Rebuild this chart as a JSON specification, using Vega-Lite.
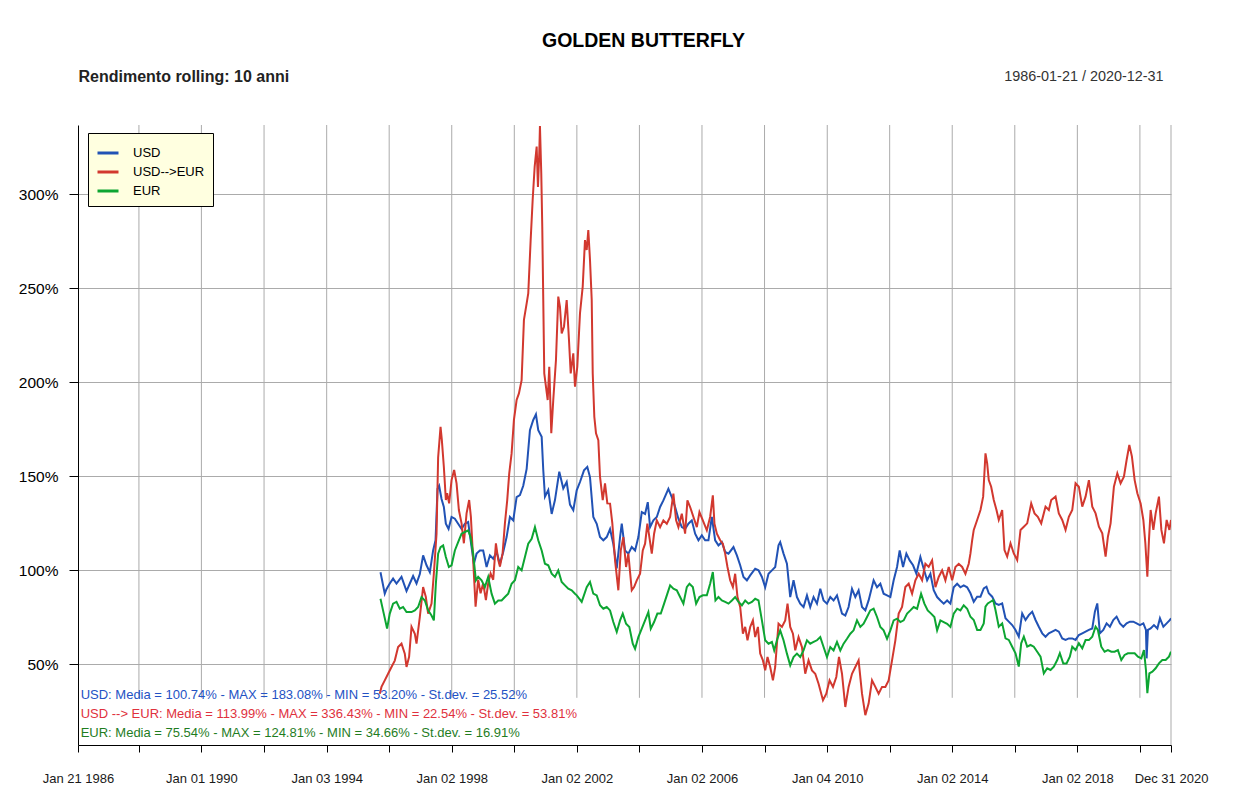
{
  "$schema": "https://vega.github.io/schema/vega-lite/v6.json",
  "autosize": {"type": "none"},
  "padding": {"left": 78, "top": 125, "right": 79, "bottom": 51},
  "width": 1093,
  "height": 620,
  "background": "white",
  "config": {"view": {"stroke": null}, "font": "Liberation Sans"},
  "datasets": {
    "grid": [
      {"d": 1988.003}, {"d": 1990.0}, {"d": 1992.003}, {"d": 1994.005}, {"d": 1996.003}, {"d": 1998.003},
      {"d": 2000.003}, {"d": 2002.003}, {"d": 2004.003}, {"d": 2006.003}, {"d": 2008.003}, {"d": 2010.008},
      {"d": 2012.003}, {"d": 2014.003}, {"d": 2016.003}, {"d": 2018.003}, {"d": 2020.003}
    ],
    "series": [
      {"s":"USD","t":1995.725,"v":99},{"s":"USD","t":1995.862,"v":87.6},{"s":"USD","t":1995.917,"v":90},{"s":"USD","t":1996.022,"v":93},{"s":"USD","t":1996.128,"v":95.6},{"s":"USD","t":1996.237,"v":93},{"s":"USD","t":1996.397,"v":96.5},{"s":"USD","t":1996.557,"v":89},{"s":"USD","t":1996.663,"v":93},{"s":"USD","t":1996.768,"v":97},{"s":"USD","t":1996.877,"v":93},{"s":"USD","t":1996.983,"v":98},{"s":"USD","t":1997.088,"v":108},{"s":"USD","t":1997.197,"v":102.7},{"s":"USD","t":1997.303,"v":99},{"s":"USD","t":1997.408,"v":110.6},{"s":"USD","t":1997.485,"v":116},{"s":"USD","t":1997.549,"v":143.4},{"s":"USD","t":1997.6,"v":145},{"s":"USD","t":1997.677,"v":138},{"s":"USD","t":1997.751,"v":133.7},{"s":"USD","t":1997.815,"v":124.8},{"s":"USD","t":1997.901,"v":122},{"s":"USD","t":1997.997,"v":128.4},{"s":"USD","t":1998.103,"v":127.5},{"s":"USD","t":1998.208,"v":124.8},{"s":"USD","t":1998.317,"v":122},{"s":"USD","t":1998.423,"v":124.8},{"s":"USD","t":1998.528,"v":125.7},{"s":"USD","t":1998.637,"v":112.4},{"s":"USD","t":1998.711,"v":103.5},{"s":"USD","t":1998.797,"v":108.9},{"s":"USD","t":1998.903,"v":110.6},{"s":"USD","t":1999.008,"v":110.6},{"s":"USD","t":1999.117,"v":101.8},{"s":"USD","t":1999.223,"v":108},{"s":"USD","t":1999.329,"v":106.2},{"s":"USD","t":1999.437,"v":109.8},{"s":"USD","t":1999.543,"v":103.5},{"s":"USD","t":1999.649,"v":109.8},{"s":"USD","t":1999.757,"v":117.7},{"s":"USD","t":1999.863,"v":128.4},{"s":"USD","t":1999.969,"v":126.6},{"s":"USD","t":2000.077,"v":139},{"s":"USD","t":2000.183,"v":140},{"s":"USD","t":2000.289,"v":145},{"s":"USD","t":2000.398,"v":154},{"s":"USD","t":2000.503,"v":174.6},{"s":"USD","t":2000.609,"v":180},{"s":"USD","t":2000.695,"v":183},{"s":"USD","t":2000.769,"v":174.6},{"s":"USD","t":2000.878,"v":171},{"s":"USD","t":2000.929,"v":153.4},{"s":"USD","t":2000.983,"v":139.2},{"s":"USD","t":2001.089,"v":142.7},{"s":"USD","t":2001.198,"v":130},{"s":"USD","t":2001.303,"v":137.4},{"s":"USD","t":2001.441,"v":152.5},{"s":"USD","t":2001.569,"v":143.6},{"s":"USD","t":2001.678,"v":147},{"s":"USD","t":2001.783,"v":135},{"s":"USD","t":2001.889,"v":132},{"s":"USD","t":2001.998,"v":142.6},{"s":"USD","t":2002.103,"v":147},{"s":"USD","t":2002.231,"v":153.2},{"s":"USD","t":2002.337,"v":155},{"s":"USD","t":2002.423,"v":149.6},{"s":"USD","t":2002.529,"v":128.4},{"s":"USD","t":2002.638,"v":124.8},{"s":"USD","t":2002.743,"v":117.7},{"s":"USD","t":2002.849,"v":116},{"s":"USD","t":2002.958,"v":117.7},{"s":"USD","t":2003.064,"v":122},{"s":"USD","t":2003.169,"v":114},{"s":"USD","t":2003.278,"v":101},{"s":"USD","t":2003.384,"v":117.7},{"s":"USD","t":2003.438,"v":124.8},{"s":"USD","t":2003.544,"v":110.6},{"s":"USD","t":2003.649,"v":108.9},{"s":"USD","t":2003.758,"v":112.4},{"s":"USD","t":2003.864,"v":110.6},{"s":"USD","t":2003.969,"v":117.7},{"s":"USD","t":2004.078,"v":131},{"s":"USD","t":2004.184,"v":130},{"s":"USD","t":2004.27,"v":136.3},{"s":"USD","t":2004.344,"v":123},{"s":"USD","t":2004.449,"v":126.6},{"s":"USD","t":2004.558,"v":128.4},{"s":"USD","t":2004.664,"v":133.7},{"s":"USD","t":2004.769,"v":137.2},{"s":"USD","t":2004.929,"v":143.4},{"s":"USD","t":2005.038,"v":139},{"s":"USD","t":2005.144,"v":133.7},{"s":"USD","t":2005.249,"v":127.5},{"s":"USD","t":2005.358,"v":123},{"s":"USD","t":2005.464,"v":122},{"s":"USD","t":2005.569,"v":124.8},{"s":"USD","t":2005.678,"v":126.6},{"s":"USD","t":2005.784,"v":119.5},{"s":"USD","t":2005.89,"v":116},{"s":"USD","t":2005.998,"v":118.6},{"s":"USD","t":2006.104,"v":116},{"s":"USD","t":2006.21,"v":116},{"s":"USD","t":2006.318,"v":128.4},{"s":"USD","t":2006.424,"v":116},{"s":"USD","t":2006.53,"v":113.3},{"s":"USD","t":2006.638,"v":115},{"s":"USD","t":2006.744,"v":109.8},{"s":"USD","t":2006.85,"v":108.9},{"s":"USD","t":2007.01,"v":112.4},{"s":"USD","t":2007.119,"v":108},{"s":"USD","t":2007.224,"v":102.7},{"s":"USD","t":2007.33,"v":96.5},{"s":"USD","t":2007.439,"v":94.7},{"s":"USD","t":2007.544,"v":97.3},{"s":"USD","t":2007.704,"v":100.9},{"s":"USD","t":2007.81,"v":100},{"s":"USD","t":2007.919,"v":96.5},{"s":"USD","t":2008.024,"v":91},{"s":"USD","t":2008.13,"v":98.2},{"s":"USD","t":2008.239,"v":100},{"s":"USD","t":2008.344,"v":101.8},{"s":"USD","t":2008.45,"v":113.3},{"s":"USD","t":2008.504,"v":115},{"s":"USD","t":2008.61,"v":108.9},{"s":"USD","t":2008.719,"v":103.5},{"s":"USD","t":2008.824,"v":85.8},{"s":"USD","t":2008.93,"v":94.7},{"s":"USD","t":2009.039,"v":85.8},{"s":"USD","t":2009.144,"v":82.3},{"s":"USD","t":2009.25,"v":80.5},{"s":"USD","t":2009.359,"v":86.7},{"s":"USD","t":2009.464,"v":80.5},{"s":"USD","t":2009.57,"v":85.8},{"s":"USD","t":2009.679,"v":82.3},{"s":"USD","t":2009.785,"v":90.2},{"s":"USD","t":2009.89,"v":84},{"s":"USD","t":2009.999,"v":82.3},{"s":"USD","t":2010.105,"v":85.8},{"s":"USD","t":2010.21,"v":84},{"s":"USD","t":2010.319,"v":86.7},{"s":"USD","t":2010.479,"v":77},{"s":"USD","t":2010.585,"v":76},{"s":"USD","t":2010.69,"v":80.5},{"s":"USD","t":2010.799,"v":90.2},{"s":"USD","t":2010.905,"v":85.8},{"s":"USD","t":2011.01,"v":89.4},{"s":"USD","t":2011.119,"v":80.5},{"s":"USD","t":2011.225,"v":78.7},{"s":"USD","t":2011.33,"v":84},{"s":"USD","t":2011.49,"v":94.7},{"s":"USD","t":2011.599,"v":91},{"s":"USD","t":2011.705,"v":92.9},{"s":"USD","t":2011.81,"v":87.6},{"s":"USD","t":2011.919,"v":86.7},{"s":"USD","t":2012.025,"v":85.8},{"s":"USD","t":2012.131,"v":94.7},{"s":"USD","t":2012.239,"v":101.8},{"s":"USD","t":2012.323,"v":110.6},{"s":"USD","t":2012.431,"v":101.8},{"s":"USD","t":2012.537,"v":108.9},{"s":"USD","t":2012.643,"v":105.3},{"s":"USD","t":2012.751,"v":102.7},{"s":"USD","t":2012.857,"v":98.2},{"s":"USD","t":2012.985,"v":107.1},{"s":"USD","t":2013.091,"v":100.9},{"s":"USD","t":2013.2,"v":94.7},{"s":"USD","t":2013.305,"v":98.2},{"s":"USD","t":2013.411,"v":89.4},{"s":"USD","t":2013.52,"v":85.8},{"s":"USD","t":2013.625,"v":84},{"s":"USD","t":2013.731,"v":82.3},{"s":"USD","t":2013.84,"v":84},{"s":"USD","t":2013.945,"v":82.3},{"s":"USD","t":2014.051,"v":91},{"s":"USD","t":2014.16,"v":92.9},{"s":"USD","t":2014.265,"v":91},{"s":"USD","t":2014.371,"v":92},{"s":"USD","t":2014.48,"v":91},{"s":"USD","t":2014.586,"v":87.8},{"s":"USD","t":2014.691,"v":83.3},{"s":"USD","t":2014.8,"v":86},{"s":"USD","t":2014.906,"v":86},{"s":"USD","t":2015.011,"v":90.4},{"s":"USD","t":2015.098,"v":91.3},{"s":"USD","t":2015.171,"v":87.8},{"s":"USD","t":2015.28,"v":86},{"s":"USD","t":2015.386,"v":82.4},{"s":"USD","t":2015.491,"v":81.6},{"s":"USD","t":2015.6,"v":82.4},{"s":"USD","t":2015.706,"v":74.5},{"s":"USD","t":2015.811,"v":72.7},{"s":"USD","t":2015.92,"v":70.9},{"s":"USD","t":2016.026,"v":68.3},{"s":"USD","t":2016.131,"v":64.7},{"s":"USD","t":2016.24,"v":77.1},{"s":"USD","t":2016.346,"v":73.6},{"s":"USD","t":2016.451,"v":76.2},{"s":"USD","t":2016.56,"v":78},{"s":"USD","t":2016.666,"v":73.6},{"s":"USD","t":2016.771,"v":70},{"s":"USD","t":2016.88,"v":66.5},{"s":"USD","t":2016.986,"v":64.7},{"s":"USD","t":2017.091,"v":66.5},{"s":"USD","t":2017.2,"v":67.4},{"s":"USD","t":2017.306,"v":68.3},{"s":"USD","t":2017.411,"v":67.4},{"s":"USD","t":2017.52,"v":63.8},{"s":"USD","t":2017.626,"v":63},{"s":"USD","t":2017.731,"v":63.8},{"s":"USD","t":2017.84,"v":63.8},{"s":"USD","t":2017.946,"v":63},{"s":"USD","t":2018.051,"v":65.6},{"s":"USD","t":2018.16,"v":66.5},{"s":"USD","t":2018.266,"v":67.4},{"s":"USD","t":2018.372,"v":68.3},{"s":"USD","t":2018.48,"v":69.1},{"s":"USD","t":2018.564,"v":78},{"s":"USD","t":2018.64,"v":82.4},{"s":"USD","t":2018.724,"v":66.5},{"s":"USD","t":2018.832,"v":68.3},{"s":"USD","t":2018.938,"v":71.8},{"s":"USD","t":2019.044,"v":70},{"s":"USD","t":2019.152,"v":73.6},{"s":"USD","t":2019.258,"v":75.4},{"s":"USD","t":2019.364,"v":71.8},{"s":"USD","t":2019.472,"v":70},{"s":"USD","t":2019.578,"v":71.8},{"s":"USD","t":2019.684,"v":72.7},{"s":"USD","t":2019.792,"v":72.7},{"s":"USD","t":2019.898,"v":71.8},{"s":"USD","t":2020.004,"v":70.9},{"s":"USD","t":2020.113,"v":71.8},{"s":"USD","t":2020.196,"v":68.3},{"s":"USD","t":2020.218,"v":53.2},{"s":"USD","t":2020.26,"v":68.3},{"s":"USD","t":2020.346,"v":69.1},{"s":"USD","t":2020.452,"v":70.9},{"s":"USD","t":2020.561,"v":69.1},{"s":"USD","t":2020.644,"v":74.5},{"s":"USD","t":2020.753,"v":70},{"s":"USD","t":2020.858,"v":71.8},{"s":"USD","t":2020.964,"v":73.6},{"s":"USD","t":2020.997,"v":74.5},
      {"s":"USD-->EUR","t":1995.702,"v":34.4},{"s":"USD-->EUR","t":1995.757,"v":38},{"s":"USD-->EUR","t":1995.862,"v":41.5},{"s":"USD-->EUR","t":1995.968,"v":45},{"s":"USD-->EUR","t":1996.077,"v":48.6},{"s":"USD-->EUR","t":1996.182,"v":52},{"s":"USD-->EUR","t":1996.288,"v":59.2},{"s":"USD-->EUR","t":1996.397,"v":61},{"s":"USD-->EUR","t":1996.502,"v":55.7},{"s":"USD-->EUR","t":1996.557,"v":48.6},{"s":"USD-->EUR","t":1996.64,"v":54},{"s":"USD-->EUR","t":1996.717,"v":70},{"s":"USD-->EUR","t":1996.823,"v":66.3},{"s":"USD-->EUR","t":1996.877,"v":61},{"s":"USD-->EUR","t":1996.983,"v":75.2},{"s":"USD-->EUR","t":1997.088,"v":91.1},{"s":"USD-->EUR","t":1997.175,"v":85.8},{"s":"USD-->EUR","t":1997.248,"v":77},{"s":"USD-->EUR","t":1997.357,"v":82.3},{"s":"USD-->EUR","t":1997.431,"v":98.2},{"s":"USD-->EUR","t":1997.517,"v":119.5},{"s":"USD-->EUR","t":1997.568,"v":160},{"s":"USD-->EUR","t":1997.645,"v":176.4},{"s":"USD-->EUR","t":1997.687,"v":169.3},{"s":"USD-->EUR","t":1997.751,"v":155},{"s":"USD-->EUR","t":1997.815,"v":137.4},{"s":"USD-->EUR","t":1997.856,"v":141},{"s":"USD-->EUR","t":1997.92,"v":135.6},{"s":"USD-->EUR","t":1997.997,"v":148},{"s":"USD-->EUR","t":1998.08,"v":153.4},{"s":"USD-->EUR","t":1998.157,"v":146.3},{"s":"USD-->EUR","t":1998.231,"v":132.1},{"s":"USD-->EUR","t":1998.317,"v":125},{"s":"USD-->EUR","t":1998.391,"v":114.4},{"s":"USD-->EUR","t":1998.477,"v":130.3},{"s":"USD-->EUR","t":1998.56,"v":137.4},{"s":"USD-->EUR","t":1998.615,"v":128.5},{"s":"USD-->EUR","t":1998.688,"v":105.6},{"s":"USD-->EUR","t":1998.765,"v":80.7},{"s":"USD-->EUR","t":1998.848,"v":95},{"s":"USD-->EUR","t":1998.925,"v":87.8},{"s":"USD-->EUR","t":1999.008,"v":93.1},{"s":"USD-->EUR","t":1999.095,"v":84.2},{"s":"USD-->EUR","t":1999.168,"v":93.1},{"s":"USD-->EUR","t":1999.245,"v":98.4},{"s":"USD-->EUR","t":1999.329,"v":95},{"s":"USD-->EUR","t":1999.415,"v":114.4},{"s":"USD-->EUR","t":1999.489,"v":105.6},{"s":"USD-->EUR","t":1999.543,"v":102},{"s":"USD-->EUR","t":1999.629,"v":109},{"s":"USD-->EUR","t":1999.703,"v":125},{"s":"USD-->EUR","t":1999.777,"v":137.4},{"s":"USD-->EUR","t":1999.841,"v":151.6},{"s":"USD-->EUR","t":1999.917,"v":162.2},{"s":"USD-->EUR","t":1999.991,"v":180},{"s":"USD-->EUR","t":2000.077,"v":190.6},{"s":"USD-->EUR","t":2000.151,"v":194.1},{"s":"USD-->EUR","t":2000.237,"v":201.2},{"s":"USD-->EUR","t":2000.311,"v":233.2},{"s":"USD-->EUR","t":2000.398,"v":242},{"s":"USD-->EUR","t":2000.449,"v":247.3},{"s":"USD-->EUR","t":2000.526,"v":275.7},{"s":"USD-->EUR","t":2000.59,"v":297},{"s":"USD-->EUR","t":2000.654,"v":314.7},{"s":"USD-->EUR","t":2000.718,"v":325.4},{"s":"USD-->EUR","t":2000.759,"v":304},{"s":"USD-->EUR","t":2000.801,"v":321.8},{"s":"USD-->EUR","t":2000.823,"v":336.4},{"s":"USD-->EUR","t":2000.865,"v":311.2},{"s":"USD-->EUR","t":2000.897,"v":282.8},{"s":"USD-->EUR","t":2000.929,"v":243.8},{"s":"USD-->EUR","t":2000.961,"v":204.8},{"s":"USD-->EUR","t":2001.015,"v":197.7},{"s":"USD-->EUR","t":2001.07,"v":190.6},{"s":"USD-->EUR","t":2001.121,"v":208.3},{"s":"USD-->EUR","t":2001.185,"v":172.9},{"s":"USD-->EUR","t":2001.249,"v":190.6},{"s":"USD-->EUR","t":2001.335,"v":211.9},{"s":"USD-->EUR","t":2001.409,"v":245.6},{"s":"USD-->EUR","t":2001.463,"v":240.2},{"s":"USD-->EUR","t":2001.518,"v":226},{"s":"USD-->EUR","t":2001.591,"v":229.6},{"s":"USD-->EUR","t":2001.678,"v":243.8},{"s":"USD-->EUR","t":2001.751,"v":222.5},{"s":"USD-->EUR","t":2001.806,"v":204.8},{"s":"USD-->EUR","t":2001.889,"v":215.4},{"s":"USD-->EUR","t":2001.943,"v":197.7},{"s":"USD-->EUR","t":2002.017,"v":208.3},{"s":"USD-->EUR","t":2002.103,"v":236.7},{"s":"USD-->EUR","t":2002.19,"v":250.9},{"s":"USD-->EUR","t":2002.263,"v":275.7},{"s":"USD-->EUR","t":2002.318,"v":270.4},{"s":"USD-->EUR","t":2002.369,"v":281},{"s":"USD-->EUR","t":2002.423,"v":265.1},{"s":"USD-->EUR","t":2002.478,"v":243.8},{"s":"USD-->EUR","t":2002.51,"v":204.8},{"s":"USD-->EUR","t":2002.561,"v":181.7},{"s":"USD-->EUR","t":2002.615,"v":172.9},{"s":"USD-->EUR","t":2002.689,"v":169.3},{"s":"USD-->EUR","t":2002.743,"v":149.8},{"s":"USD-->EUR","t":2002.83,"v":137.4},{"s":"USD-->EUR","t":2002.903,"v":146.3},{"s":"USD-->EUR","t":2002.977,"v":135.6},{"s":"USD-->EUR","t":2003.064,"v":135.5},{"s":"USD-->EUR","t":2003.137,"v":125},{"s":"USD-->EUR","t":2003.224,"v":105.3},{"s":"USD-->EUR","t":2003.329,"v":89.4},{"s":"USD-->EUR","t":2003.406,"v":110.6},{"s":"USD-->EUR","t":2003.489,"v":117.7},{"s":"USD-->EUR","t":2003.576,"v":101.8},{"s":"USD-->EUR","t":2003.649,"v":108.9},{"s":"USD-->EUR","t":2003.758,"v":89.4},{"s":"USD-->EUR","t":2003.832,"v":91.1},{"s":"USD-->EUR","t":2003.918,"v":94.7},{"s":"USD-->EUR","t":2004.024,"v":98.2},{"s":"USD-->EUR","t":2004.11,"v":110.6},{"s":"USD-->EUR","t":2004.184,"v":114.2},{"s":"USD-->EUR","t":2004.257,"v":124.8},{"s":"USD-->EUR","t":2004.321,"v":117.7},{"s":"USD-->EUR","t":2004.398,"v":108.9},{"s":"USD-->EUR","t":2004.472,"v":119.5},{"s":"USD-->EUR","t":2004.558,"v":126.6},{"s":"USD-->EUR","t":2004.664,"v":123},{"s":"USD-->EUR","t":2004.769,"v":126.6},{"s":"USD-->EUR","t":2004.878,"v":124.8},{"s":"USD-->EUR","t":2004.984,"v":128.4},{"s":"USD-->EUR","t":2005.089,"v":140.8},{"s":"USD-->EUR","t":2005.176,"v":126.6},{"s":"USD-->EUR","t":2005.249,"v":123},{"s":"USD-->EUR","t":2005.358,"v":130.1},{"s":"USD-->EUR","t":2005.464,"v":119.5},{"s":"USD-->EUR","t":2005.537,"v":137.2},{"s":"USD-->EUR","t":2005.624,"v":133.7},{"s":"USD-->EUR","t":2005.73,"v":128.4},{"s":"USD-->EUR","t":2005.838,"v":123},{"s":"USD-->EUR","t":2005.922,"v":131},{"s":"USD-->EUR","t":2006.03,"v":126.6},{"s":"USD-->EUR","t":2006.158,"v":121.3},{"s":"USD-->EUR","t":2006.264,"v":128.4},{"s":"USD-->EUR","t":2006.35,"v":139.9},{"s":"USD-->EUR","t":2006.402,"v":124.8},{"s":"USD-->EUR","t":2006.479,"v":119.5},{"s":"USD-->EUR","t":2006.584,"v":116},{"s":"USD-->EUR","t":2006.67,"v":114.2},{"s":"USD-->EUR","t":2006.744,"v":108.9},{"s":"USD-->EUR","t":2006.818,"v":101.8},{"s":"USD-->EUR","t":2006.904,"v":94.7},{"s":"USD-->EUR","t":2006.991,"v":91.1},{"s":"USD-->EUR","t":2007.064,"v":98.2},{"s":"USD-->EUR","t":2007.138,"v":85.8},{"s":"USD-->EUR","t":2007.224,"v":80.5},{"s":"USD-->EUR","t":2007.311,"v":66.3},{"s":"USD-->EUR","t":2007.384,"v":69.9},{"s":"USD-->EUR","t":2007.458,"v":62.8},{"s":"USD-->EUR","t":2007.544,"v":69.9},{"s":"USD-->EUR","t":2007.631,"v":73.4},{"s":"USD-->EUR","t":2007.704,"v":64.5},{"s":"USD-->EUR","t":2007.791,"v":69.9},{"s":"USD-->EUR","t":2007.864,"v":55.7},{"s":"USD-->EUR","t":2007.951,"v":52.1},{"s":"USD-->EUR","t":2008.024,"v":46.8},{"s":"USD-->EUR","t":2008.098,"v":53.9},{"s":"USD-->EUR","t":2008.184,"v":48.6},{"s":"USD-->EUR","t":2008.271,"v":41.5},{"s":"USD-->EUR","t":2008.344,"v":48.6},{"s":"USD-->EUR","t":2008.399,"v":61},{"s":"USD-->EUR","t":2008.45,"v":71.6},{"s":"USD-->EUR","t":2008.559,"v":69.9},{"s":"USD-->EUR","t":2008.664,"v":73.4},{"s":"USD-->EUR","t":2008.738,"v":82.3},{"s":"USD-->EUR","t":2008.824,"v":69.9},{"s":"USD-->EUR","t":2008.911,"v":66.3},{"s":"USD-->EUR","t":2008.984,"v":57.5},{"s":"USD-->EUR","t":2009.09,"v":64.5},{"s":"USD-->EUR","t":2009.199,"v":59.2},{"s":"USD-->EUR","t":2009.304,"v":45},{"s":"USD-->EUR","t":2009.41,"v":52.1},{"s":"USD-->EUR","t":2009.519,"v":46.8},{"s":"USD-->EUR","t":2009.624,"v":45},{"s":"USD-->EUR","t":2009.73,"v":39.7},{"s":"USD-->EUR","t":2009.871,"v":30.9},{"s":"USD-->EUR","t":2009.977,"v":34.4},{"s":"USD-->EUR","t":2010.082,"v":41.5},{"s":"USD-->EUR","t":2010.191,"v":38},{"s":"USD-->EUR","t":2010.297,"v":43.3},{"s":"USD-->EUR","t":2010.383,"v":54},{"s":"USD-->EUR","t":2010.479,"v":45},{"s":"USD-->EUR","t":2010.585,"v":27.3},{"s":"USD-->EUR","t":2010.69,"v":38},{"s":"USD-->EUR","t":2010.799,"v":45},{"s":"USD-->EUR","t":2010.905,"v":48.6},{"s":"USD-->EUR","t":2011.01,"v":52.1},{"s":"USD-->EUR","t":2011.119,"v":34.4},{"s":"USD-->EUR","t":2011.225,"v":23},{"s":"USD-->EUR","t":2011.33,"v":29.1},{"s":"USD-->EUR","t":2011.439,"v":41.5},{"s":"USD-->EUR","t":2011.545,"v":38},{"s":"USD-->EUR","t":2011.65,"v":34.4},{"s":"USD-->EUR","t":2011.759,"v":38},{"s":"USD-->EUR","t":2011.865,"v":38},{"s":"USD-->EUR","t":2011.97,"v":41.5},{"s":"USD-->EUR","t":2012.079,"v":52.1},{"s":"USD-->EUR","t":2012.185,"v":62.8},{"s":"USD-->EUR","t":2012.291,"v":77},{"s":"USD-->EUR","t":2012.399,"v":80.5},{"s":"USD-->EUR","t":2012.505,"v":91.1},{"s":"USD-->EUR","t":2012.611,"v":92.9},{"s":"USD-->EUR","t":2012.72,"v":87.6},{"s":"USD-->EUR","t":2012.825,"v":94.7},{"s":"USD-->EUR","t":2012.931,"v":98.2},{"s":"USD-->EUR","t":2013.04,"v":94.7},{"s":"USD-->EUR","t":2013.145,"v":103.5},{"s":"USD-->EUR","t":2013.251,"v":101.8},{"s":"USD-->EUR","t":2013.36,"v":105.3},{"s":"USD-->EUR","t":2013.466,"v":91.1},{"s":"USD-->EUR","t":2013.571,"v":96.5},{"s":"USD-->EUR","t":2013.68,"v":100},{"s":"USD-->EUR","t":2013.785,"v":94.7},{"s":"USD-->EUR","t":2013.891,"v":101.8},{"s":"USD-->EUR","t":2014.0,"v":94.7},{"s":"USD-->EUR","t":2014.105,"v":101.8},{"s":"USD-->EUR","t":2014.211,"v":103.5},{"s":"USD-->EUR","t":2014.32,"v":101.8},{"s":"USD-->EUR","t":2014.425,"v":98.2},{"s":"USD-->EUR","t":2014.531,"v":103.5},{"s":"USD-->EUR","t":2014.586,"v":109},{"s":"USD-->EUR","t":2014.64,"v":115.9},{"s":"USD-->EUR","t":2014.691,"v":121.5},{"s":"USD-->EUR","t":2014.8,"v":126.8},{"s":"USD-->EUR","t":2014.906,"v":132.1},{"s":"USD-->EUR","t":2014.992,"v":139.2},{"s":"USD-->EUR","t":2015.066,"v":162.2},{"s":"USD-->EUR","t":2015.12,"v":156.9},{"s":"USD-->EUR","t":2015.171,"v":148},{"s":"USD-->EUR","t":2015.248,"v":144.5},{"s":"USD-->EUR","t":2015.331,"v":137.4},{"s":"USD-->EUR","t":2015.418,"v":132.1},{"s":"USD-->EUR","t":2015.491,"v":126.8},{"s":"USD-->EUR","t":2015.6,"v":132.1},{"s":"USD-->EUR","t":2015.674,"v":110.8},{"s":"USD-->EUR","t":2015.76,"v":107.3},{"s":"USD-->EUR","t":2015.866,"v":114.4},{"s":"USD-->EUR","t":2015.971,"v":109},{"s":"USD-->EUR","t":2016.08,"v":105.5},{"s":"USD-->EUR","t":2016.186,"v":121.5},{"s":"USD-->EUR","t":2016.292,"v":123.2},{"s":"USD-->EUR","t":2016.4,"v":125},{"s":"USD-->EUR","t":2016.528,"v":135.6},{"s":"USD-->EUR","t":2016.634,"v":130.3},{"s":"USD-->EUR","t":2016.739,"v":128.5},{"s":"USD-->EUR","t":2016.848,"v":125},{"s":"USD-->EUR","t":2016.986,"v":133.9},{"s":"USD-->EUR","t":2017.091,"v":132.1},{"s":"USD-->EUR","t":2017.168,"v":137.4},{"s":"USD-->EUR","t":2017.306,"v":139.2},{"s":"USD-->EUR","t":2017.411,"v":130.3},{"s":"USD-->EUR","t":2017.52,"v":126.8},{"s":"USD-->EUR","t":2017.626,"v":121.5},{"s":"USD-->EUR","t":2017.731,"v":128.5},{"s":"USD-->EUR","t":2017.84,"v":132.1},{"s":"USD-->EUR","t":2017.946,"v":146.3},{"s":"USD-->EUR","t":2018.051,"v":144.5},{"s":"USD-->EUR","t":2018.16,"v":133.9},{"s":"USD-->EUR","t":2018.266,"v":139.2},{"s":"USD-->EUR","t":2018.372,"v":148},{"s":"USD-->EUR","t":2018.48,"v":133.9},{"s":"USD-->EUR","t":2018.586,"v":130.3},{"s":"USD-->EUR","t":2018.692,"v":123.2},{"s":"USD-->EUR","t":2018.8,"v":119.7},{"s":"USD-->EUR","t":2018.906,"v":107.3},{"s":"USD-->EUR","t":2018.98,"v":117.9},{"s":"USD-->EUR","t":2019.066,"v":125},{"s":"USD-->EUR","t":2019.172,"v":144.5},{"s":"USD-->EUR","t":2019.281,"v":151.6},{"s":"USD-->EUR","t":2019.386,"v":146.3},{"s":"USD-->EUR","t":2019.492,"v":149.8},{"s":"USD-->EUR","t":2019.578,"v":158.7},{"s":"USD-->EUR","t":2019.665,"v":166.7},{"s":"USD-->EUR","t":2019.748,"v":160.5},{"s":"USD-->EUR","t":2019.835,"v":148},{"s":"USD-->EUR","t":2019.921,"v":141},{"s":"USD-->EUR","t":2020.026,"v":135.6},{"s":"USD-->EUR","t":2020.113,"v":126.8},{"s":"USD-->EUR","t":2020.177,"v":114.4},{"s":"USD-->EUR","t":2020.241,"v":96.6},{"s":"USD-->EUR","t":2020.292,"v":116.1},{"s":"USD-->EUR","t":2020.346,"v":132.1},{"s":"USD-->EUR","t":2020.433,"v":121.5},{"s":"USD-->EUR","t":2020.506,"v":130.3},{"s":"USD-->EUR","t":2020.612,"v":139.2},{"s":"USD-->EUR","t":2020.689,"v":121.5},{"s":"USD-->EUR","t":2020.772,"v":114.4},{"s":"USD-->EUR","t":2020.858,"v":126.8},{"s":"USD-->EUR","t":2020.945,"v":121.5},{"s":"USD-->EUR","t":2020.997,"v":126.8},
      {"s":"EUR","t":1995.725,"v":84.9},{"s":"EUR","t":1995.83,"v":77},{"s":"EUR","t":1995.936,"v":69},{"s":"EUR","t":1996.022,"v":77},{"s":"EUR","t":1996.128,"v":82.3},{"s":"EUR","t":1996.237,"v":83.2},{"s":"EUR","t":1996.342,"v":79.6},{"s":"EUR","t":1996.448,"v":80.5},{"s":"EUR","t":1996.557,"v":77.8},{"s":"EUR","t":1996.717,"v":77.8},{"s":"EUR","t":1996.823,"v":78.7},{"s":"EUR","t":1996.928,"v":80.5},{"s":"EUR","t":1997.037,"v":85.8},{"s":"EUR","t":1997.143,"v":84},{"s":"EUR","t":1997.248,"v":78.7},{"s":"EUR","t":1997.357,"v":76},{"s":"EUR","t":1997.431,"v":73.4},{"s":"EUR","t":1997.495,"v":92.9},{"s":"EUR","t":1997.568,"v":108.9},{"s":"EUR","t":1997.645,"v":112.4},{"s":"EUR","t":1997.728,"v":113.3},{"s":"EUR","t":1997.815,"v":107.1},{"s":"EUR","t":1997.911,"v":101.8},{"s":"EUR","t":1997.997,"v":102.7},{"s":"EUR","t":1998.103,"v":110.6},{"s":"EUR","t":1998.208,"v":115},{"s":"EUR","t":1998.317,"v":119.5},{"s":"EUR","t":1998.423,"v":120.4},{"s":"EUR","t":1998.528,"v":121.3},{"s":"EUR","t":1998.605,"v":117.7},{"s":"EUR","t":1998.688,"v":108.9},{"s":"EUR","t":1998.775,"v":94.7},{"s":"EUR","t":1998.848,"v":96.5},{"s":"EUR","t":1998.957,"v":94.7},{"s":"EUR","t":1999.063,"v":91.1},{"s":"EUR","t":1999.168,"v":96.5},{"s":"EUR","t":1999.277,"v":87.6},{"s":"EUR","t":1999.383,"v":82.3},{"s":"EUR","t":1999.489,"v":84},{"s":"EUR","t":1999.597,"v":84},{"s":"EUR","t":1999.703,"v":85.8},{"s":"EUR","t":1999.809,"v":87.6},{"s":"EUR","t":1999.917,"v":92.9},{"s":"EUR","t":2000.023,"v":94.7},{"s":"EUR","t":2000.129,"v":101.8},{"s":"EUR","t":2000.237,"v":100},{"s":"EUR","t":2000.343,"v":107.1},{"s":"EUR","t":2000.449,"v":114.2},{"s":"EUR","t":2000.558,"v":116.8},{"s":"EUR","t":2000.663,"v":123},{"s":"EUR","t":2000.769,"v":116},{"s":"EUR","t":2000.878,"v":110.6},{"s":"EUR","t":2000.983,"v":103.5},{"s":"EUR","t":2001.089,"v":102.7},{"s":"EUR","t":2001.198,"v":98.2},{"s":"EUR","t":2001.303,"v":96.5},{"s":"EUR","t":2001.409,"v":100},{"s":"EUR","t":2001.518,"v":93.8},{"s":"EUR","t":2001.623,"v":92},{"s":"EUR","t":2001.729,"v":90.2},{"s":"EUR","t":2001.838,"v":89.4},{"s":"EUR","t":2001.943,"v":87.6},{"s":"EUR","t":2002.0,"v":86.7},{"s":"EUR","t":2002.158,"v":83.2},{"s":"EUR","t":2002.318,"v":91.1},{"s":"EUR","t":2002.423,"v":93.8},{"s":"EUR","t":2002.529,"v":87.6},{"s":"EUR","t":2002.638,"v":86.7},{"s":"EUR","t":2002.743,"v":81.4},{"s":"EUR","t":2002.849,"v":79.6},{"s":"EUR","t":2002.958,"v":80.5},{"s":"EUR","t":2003.064,"v":78.7},{"s":"EUR","t":2003.169,"v":72.5},{"s":"EUR","t":2003.278,"v":67.2},{"s":"EUR","t":2003.384,"v":73.4},{"s":"EUR","t":2003.47,"v":77},{"s":"EUR","t":2003.576,"v":71.6},{"s":"EUR","t":2003.681,"v":69.9},{"s":"EUR","t":2003.79,"v":61},{"s":"EUR","t":2003.864,"v":58.3},{"s":"EUR","t":2003.969,"v":64.5},{"s":"EUR","t":2004.078,"v":69},{"s":"EUR","t":2004.184,"v":73.4},{"s":"EUR","t":2004.289,"v":77.8},{"s":"EUR","t":2004.366,"v":69},{"s":"EUR","t":2004.472,"v":72.5},{"s":"EUR","t":2004.577,"v":77},{"s":"EUR","t":2004.686,"v":77},{"s":"EUR","t":2004.792,"v":82.3},{"s":"EUR","t":2004.897,"v":87.6},{"s":"EUR","t":2004.984,"v":92},{"s":"EUR","t":2005.089,"v":90.2},{"s":"EUR","t":2005.198,"v":89.4},{"s":"EUR","t":2005.304,"v":85.8},{"s":"EUR","t":2005.409,"v":82.3},{"s":"EUR","t":2005.518,"v":91.1},{"s":"EUR","t":2005.602,"v":92.9},{"s":"EUR","t":2005.71,"v":91.1},{"s":"EUR","t":2005.816,"v":82.3},{"s":"EUR","t":2005.922,"v":85.8},{"s":"EUR","t":2006.03,"v":86.7},{"s":"EUR","t":2006.158,"v":86.7},{"s":"EUR","t":2006.264,"v":92.9},{"s":"EUR","t":2006.35,"v":99.1},{"s":"EUR","t":2006.434,"v":84},{"s":"EUR","t":2006.53,"v":85.8},{"s":"EUR","t":2006.638,"v":84},{"s":"EUR","t":2006.744,"v":83.2},{"s":"EUR","t":2006.85,"v":82.3},{"s":"EUR","t":2006.959,"v":84},{"s":"EUR","t":2007.064,"v":85.8},{"s":"EUR","t":2007.17,"v":83.2},{"s":"EUR","t":2007.279,"v":81.4},{"s":"EUR","t":2007.384,"v":84},{"s":"EUR","t":2007.49,"v":82.3},{"s":"EUR","t":2007.599,"v":83.2},{"s":"EUR","t":2007.704,"v":84.9},{"s":"EUR","t":2007.81,"v":84},{"s":"EUR","t":2007.919,"v":73.4},{"s":"EUR","t":2008.024,"v":62.8},{"s":"EUR","t":2008.13,"v":61},{"s":"EUR","t":2008.239,"v":61.9},{"s":"EUR","t":2008.312,"v":57.4},{"s":"EUR","t":2008.399,"v":62.8},{"s":"EUR","t":2008.504,"v":68.1},{"s":"EUR","t":2008.61,"v":62.8},{"s":"EUR","t":2008.719,"v":55.7},{"s":"EUR","t":2008.824,"v":49.5},{"s":"EUR","t":2008.93,"v":53.9},{"s":"EUR","t":2009.039,"v":55.7},{"s":"EUR","t":2009.144,"v":53.9},{"s":"EUR","t":2009.25,"v":57.4},{"s":"EUR","t":2009.359,"v":62.8},{"s":"EUR","t":2009.464,"v":61},{"s":"EUR","t":2009.57,"v":61.9},{"s":"EUR","t":2009.679,"v":62.8},{"s":"EUR","t":2009.785,"v":64.5},{"s":"EUR","t":2009.89,"v":59.2},{"s":"EUR","t":2009.999,"v":53.9},{"s":"EUR","t":2010.105,"v":59.2},{"s":"EUR","t":2010.21,"v":57.4},{"s":"EUR","t":2010.319,"v":61.9},{"s":"EUR","t":2010.425,"v":57.4},{"s":"EUR","t":2010.53,"v":61},{"s":"EUR","t":2010.639,"v":63.6},{"s":"EUR","t":2010.745,"v":66.3},{"s":"EUR","t":2010.85,"v":68.1},{"s":"EUR","t":2010.959,"v":73.4},{"s":"EUR","t":2011.065,"v":69.9},{"s":"EUR","t":2011.17,"v":71.6},{"s":"EUR","t":2011.279,"v":75.2},{"s":"EUR","t":2011.385,"v":78.7},{"s":"EUR","t":2011.49,"v":79.6},{"s":"EUR","t":2011.599,"v":75.2},{"s":"EUR","t":2011.705,"v":69.9},{"s":"EUR","t":2011.81,"v":68.1},{"s":"EUR","t":2011.919,"v":63.6},{"s":"EUR","t":2012.025,"v":68.1},{"s":"EUR","t":2012.131,"v":73.4},{"s":"EUR","t":2012.239,"v":74.3},{"s":"EUR","t":2012.345,"v":72.5},{"s":"EUR","t":2012.451,"v":73.4},{"s":"EUR","t":2012.56,"v":77},{"s":"EUR","t":2012.665,"v":78.7},{"s":"EUR","t":2012.771,"v":80.5},{"s":"EUR","t":2012.88,"v":79.6},{"s":"EUR","t":2013.007,"v":87.6},{"s":"EUR","t":2013.113,"v":82.3},{"s":"EUR","t":2013.219,"v":78.7},{"s":"EUR","t":2013.328,"v":77},{"s":"EUR","t":2013.433,"v":75.2},{"s":"EUR","t":2013.52,"v":68.1},{"s":"EUR","t":2013.625,"v":73.4},{"s":"EUR","t":2013.731,"v":72.5},{"s":"EUR","t":2013.84,"v":71.6},{"s":"EUR","t":2013.945,"v":69.9},{"s":"EUR","t":2014.051,"v":77},{"s":"EUR","t":2014.16,"v":79.6},{"s":"EUR","t":2014.265,"v":78.7},{"s":"EUR","t":2014.371,"v":81.4},{"s":"EUR","t":2014.48,"v":79.6},{"s":"EUR","t":2014.586,"v":75.3},{"s":"EUR","t":2014.691,"v":73.6},{"s":"EUR","t":2014.8,"v":68.3},{"s":"EUR","t":2014.906,"v":68.3},{"s":"EUR","t":2015.011,"v":71.8},{"s":"EUR","t":2015.066,"v":80.7},{"s":"EUR","t":2015.139,"v":82.4},{"s":"EUR","t":2015.226,"v":83.3},{"s":"EUR","t":2015.312,"v":84.2},{"s":"EUR","t":2015.386,"v":78.9},{"s":"EUR","t":2015.491,"v":70},{"s":"EUR","t":2015.6,"v":71.8},{"s":"EUR","t":2015.706,"v":63.8},{"s":"EUR","t":2015.811,"v":63},{"s":"EUR","t":2015.92,"v":59.4},{"s":"EUR","t":2016.026,"v":55.9},{"s":"EUR","t":2016.131,"v":48.8},{"s":"EUR","t":2016.208,"v":61.2},{"s":"EUR","t":2016.292,"v":64.7},{"s":"EUR","t":2016.4,"v":59.4},{"s":"EUR","t":2016.506,"v":60.3},{"s":"EUR","t":2016.611,"v":59.4},{"s":"EUR","t":2016.72,"v":56.7},{"s":"EUR","t":2016.826,"v":54.1},{"s":"EUR","t":2016.931,"v":45.2},{"s":"EUR","t":2017.04,"v":47.9},{"s":"EUR","t":2017.146,"v":47},{"s":"EUR","t":2017.251,"v":48.8},{"s":"EUR","t":2017.36,"v":52.3},{"s":"EUR","t":2017.443,"v":55.9},{"s":"EUR","t":2017.552,"v":50.5},{"s":"EUR","t":2017.658,"v":50.5},{"s":"EUR","t":2017.763,"v":54.1},{"s":"EUR","t":2017.84,"v":59.4},{"s":"EUR","t":2017.946,"v":57.6},{"s":"EUR","t":2018.051,"v":61.2},{"s":"EUR","t":2018.16,"v":58.5},{"s":"EUR","t":2018.266,"v":62.9},{"s":"EUR","t":2018.372,"v":62.9},{"s":"EUR","t":2018.48,"v":64.7},{"s":"EUR","t":2018.586,"v":70},{"s":"EUR","t":2018.66,"v":68.3},{"s":"EUR","t":2018.768,"v":59.4},{"s":"EUR","t":2018.874,"v":56.7},{"s":"EUR","t":2018.98,"v":57.6},{"s":"EUR","t":2019.088,"v":56.7},{"s":"EUR","t":2019.194,"v":56.7},{"s":"EUR","t":2019.3,"v":57.6},{"s":"EUR","t":2019.408,"v":52.3},{"s":"EUR","t":2019.514,"v":55},{"s":"EUR","t":2019.62,"v":55.9},{"s":"EUR","t":2019.729,"v":55.9},{"s":"EUR","t":2019.835,"v":55.9},{"s":"EUR","t":2019.94,"v":54.1},{"s":"EUR","t":2020.049,"v":53.2},{"s":"EUR","t":2020.132,"v":57.6},{"s":"EUR","t":2020.196,"v":47},{"s":"EUR","t":2020.241,"v":34.7},{"s":"EUR","t":2020.305,"v":45.2},{"s":"EUR","t":2020.401,"v":46.1},{"s":"EUR","t":2020.506,"v":47.9},{"s":"EUR","t":2020.612,"v":50.5},{"s":"EUR","t":2020.72,"v":52.3},{"s":"EUR","t":2020.826,"v":52.3},{"s":"EUR","t":2020.932,"v":54.1},{"s":"EUR","t":2020.997,"v":56.7}
    ]
  },
  "resolve": {"axis": {"x": "independent", "y": "independent"}},
  "layer": [
    {
      "data": {"name": "grid"},
      "mark": {"type": "rule", "color": "#ABABAB", "strokeWidth": 1},
      "encoding": {
        "x": {"field": "d", "type": "quantitative", "scale": {"domain": [1986.055, 2020.997], "nice": false, "zero": false},
          "axis": {"orient": "top", "labels": false, "ticks": false, "domain": false, "grid": false,
            "title": "GOLDEN BUTTERFLY", "titleX": 565, "titleY": -85, "titleAlign": "center", "titleAnchor": null,
            "titleBaseline": "middle", "titleFontSize": 19.5, "titleFontWeight": "bold", "titleColor": "#000000", "titleFont": "Liberation Sans"}},
        "y": {"datum": 32.2, "type": "quantitative", "scale": {"domain": [7.1, 336.9], "nice": false, "zero": false}, "axis": null},
        "y2": {"datum": 336.9}
      }
    },
    {
      "data": {"values": [{"t": 2020.997}]},
      "mark": {"type": "rule", "color": "#ABABAB", "strokeWidth": 1},
      "encoding": {
        "x": {"field": "t", "type": "quantitative", "axis": null},
        "y": {"datum": 7.1, "type": "quantitative",
          "axis": {"orient": "right", "labels": false, "ticks": false, "domain": false, "grid": false,
            "title": "1986-01-21 / 2020-12-31", "titleAngle": 0, "titleX": -8, "titleY": -49, "titleAlign": "right",
            "titleBaseline": "middle", "titleFontSize": 14.4, "titleFontWeight": "normal", "titleColor": "#333333", "titleFont": "Liberation Sans"}},
        "y2": {"datum": 336.9}
      }
    },
    {
      "data": {"name": "series"},
      "mark": {"type": "line", "strokeWidth": 2, "clip": true},
      "encoding": {
        "x": {"field": "t", "type": "quantitative", "scale": {"domain": [1986.055, 2020.997], "nice": false, "zero": false},
          "axis": {"orient": "bottom", "title": null, "grid": false,
            "values": [1986.055, 1988.003, 1990.0, 1992.003, 1994.005, 1996.003, 1998.003, 2000.003, 2002.003, 2004.003, 2006.003, 2008.003, 2010.008, 2012.003, 2014.003, 2016.003, 2018.003, 2020.003, 2020.997],
            "labelExpr": "round(datum.value) == 1986 ? 'Jan 21 1986' : round(datum.value) == 1990 ? 'Jan 01 1990' : round(datum.value) == 1994 ? 'Jan 03 1994' : round(datum.value) == 1998 ? 'Jan 02 1998' : round(datum.value) == 2002 ? 'Jan 02 2002' : round(datum.value) == 2006 ? 'Jan 02 2006' : round(datum.value) == 2010 ? 'Jan 04 2010' : round(datum.value) == 2014 ? 'Jan 02 2014' : round(datum.value) == 2018 ? 'Jan 02 2018' : round(datum.value) == 2021 ? 'Dec 31 2020' : ''",
            "labelOverlap": false, "labelBound": false, "labelFlush": false,
            "labelFont": "Liberation Sans", "labelFontSize": 13, "labelColor": "#1a1a1a", "labelPadding": 20,
            "domainColor": "#000000", "domainWidth": 1, "tickColor": "#000000", "tickSize": 7, "tickWidth": 1}},
        "y": {"field": "v", "type": "quantitative", "scale": {"domain": [7.1, 336.9], "nice": false, "zero": false},
          "axis": {"orient": "left", "values": [50, 100, 150, 200, 250, 300], "labelExpr": "datum.value + '%'",
            "grid": true, "gridColor": "#ABABAB", "gridWidth": 1,
            "domainColor": "#000000", "tickColor": "#000000", "tickSize": 9, "labelPadding": 11,
            "labelFont": "Liberation Sans", "labelFontSize": 15.5, "labelColor": "#000000",
            "title": "Rendimento rolling: 10 anni", "titleAngle": 0, "titleX": 0, "titleY": -49, "titleAlign": "left",
            "titleBaseline": "middle", "titleFontSize": 16, "titleFontWeight": "bold", "titleColor": "#222222", "titleFont": "Liberation Sans"}},
        "color": {"field": "s", "type": "nominal",
          "scale": {"domain": ["USD", "USD-->EUR", "EUR"], "range": ["#2152B5", "#D2382F", "#0DA532"]},
          "legend": {"orient": "none", "legendX": 10, "legendY": 8, "title": null, "fillColor": "#FFFFE0", "strokeColor": "#000000",
            "padding": 8, "symbolType": "stroke", "symbolStrokeWidth": 3, "symbolSize": 441, "labelFont": "Liberation Sans",
            "labelFontSize": 13, "labelColor": "#000000", "labelOffset": 13, "rowPadding": 0, "cornerRadius": 0}}
      }
    },
    {
      "data": {"values": [{"label": "USD: Media = 100.74% - MAX = 183.08% - MIN = 53.20% - St.dev. = 25.52%"}]},
      "mark": {"type": "text", "align": "left", "baseline": "middle", "font": "Liberation Sans", "fontSize": 13, "color": "#2352C4"},
      "encoding": {"x": {"datum": 1986.14, "type": "quantitative", "axis": null}, "y": {"datum": 33.9, "type": "quantitative", "axis": null}, "text": {"field": "label"}}
    },
    {
      "data": {"values": [{"label": "USD --> EUR: Media  = 113.99% - MAX = 336.43% - MIN = 22.54% - St.dev. = 53.81%"}]},
      "mark": {"type": "text", "align": "left", "baseline": "middle", "font": "Liberation Sans", "fontSize": 13, "color": "#E0313D"},
      "encoding": {"x": {"datum": 1986.14, "type": "quantitative", "axis": null}, "y": {"datum": 23.8, "type": "quantitative", "axis": null}, "text": {"field": "label"}}
    },
    {
      "data": {"values": [{"label": "EUR: Media = 75.54% - MAX = 124.81% - MIN = 34.66% - St.dev. = 16.91%"}]},
      "mark": {"type": "text", "align": "left", "baseline": "middle", "font": "Liberation Sans", "fontSize": 13, "color": "#1F7D1F"},
      "encoding": {"x": {"datum": 1986.14, "type": "quantitative", "axis": null}, "y": {"datum": 13.6, "type": "quantitative", "axis": null}, "text": {"field": "label"}}
    }
  ]
}
